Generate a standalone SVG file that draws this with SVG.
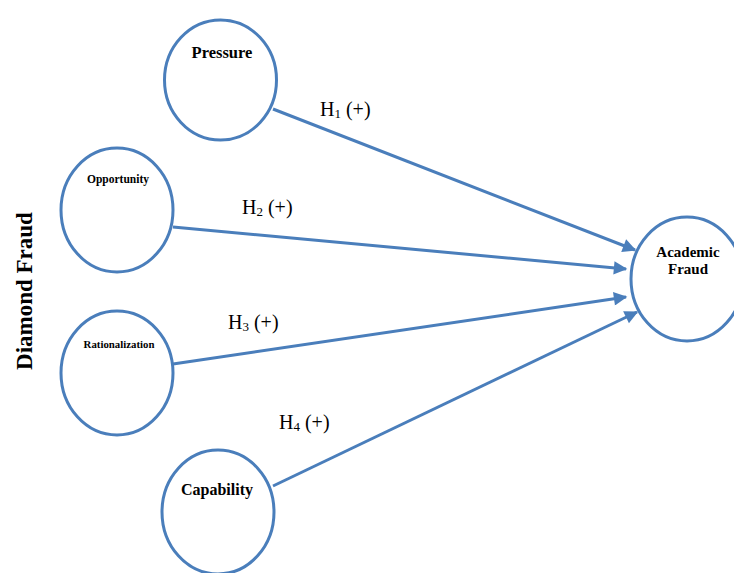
<svg xmlns="http://www.w3.org/2000/svg" width="734" height="573" viewBox="0 0 734 573">
<style>
.n{fill:#fff;stroke:#4a7ebb;stroke-width:3}
.c{stroke:#4a7ebb;stroke-width:3;fill:none}
.t{font-family:"Liberation Serif",serif;font-weight:bold;fill:#000;text-anchor:middle}
.h{font-family:"Liberation Serif",serif;font-size:20px;fill:#000}
.s{font-size:13px}
</style>
<defs>
<marker id="a" viewBox="0 0 10 10" refX="9" refY="5" markerWidth="5" markerHeight="4.5" orient="auto" markerUnits="strokeWidth">
<path d="M0,0 L10,5 L0,10 Z" fill="#4a7ebb"/>
</marker>
</defs>
<rect width="734" height="573" fill="#fff"/>
<g id="connectors">
<line class="c" x1="273" y1="109" x2="635" y2="250" marker-end="url(#a)"/>
<line class="c" x1="173" y1="227" x2="626" y2="269" marker-end="url(#a)"/>
<line class="c" x1="173" y1="364" x2="626" y2="297" marker-end="url(#a)"/>
<line class="c" x1="273" y1="486" x2="637" y2="312" marker-end="url(#a)"/>
</g>
<g id="pressure"><ellipse class="n" cx="220.5" cy="80" rx="56" ry="60"/><text class="t" x="222" y="58" font-size="16.5">Pressure</text></g>
<g id="opportunity"><ellipse class="n" cx="117" cy="210" rx="56" ry="62"/><text class="t" x="118" y="183" font-size="11.5">Opportunity</text></g>
<g id="rationalization"><ellipse class="n" cx="117" cy="373" rx="56" ry="62"/><text class="t" x="119" y="348" font-size="10.8">Rationalization</text></g>
<g id="capability"><ellipse class="n" cx="218" cy="512" rx="56" ry="62"/><text class="t" x="217" y="495" font-size="16">Capability</text></g>
<g id="academic"><ellipse class="n" cx="687" cy="279" rx="56" ry="62"/><text class="t" x="688" y="257" font-size="15">Academic</text><text class="t" x="688" y="274" font-size="15">Fraud</text></g>
<g id="labels">
<text class="h" x="320" y="116">H<tspan class="s" dy="2">1</tspan><tspan dy="-2"> (+)</tspan></text>
<text class="h" x="242" y="214">H<tspan class="s" dy="2">2</tspan><tspan dy="-2"> (+)</tspan></text>
<text class="h" x="228" y="329">H<tspan class="s" dy="2">3</tspan><tspan dy="-2"> (+)</tspan></text>
<text class="h" x="279" y="429">H<tspan class="s" dy="2">4</tspan><tspan dy="-2"> (+)</tspan></text>
<text class="t" font-size="23" transform="translate(32,291) rotate(-90)">Diamond Fraud</text>
</g>
</svg>
